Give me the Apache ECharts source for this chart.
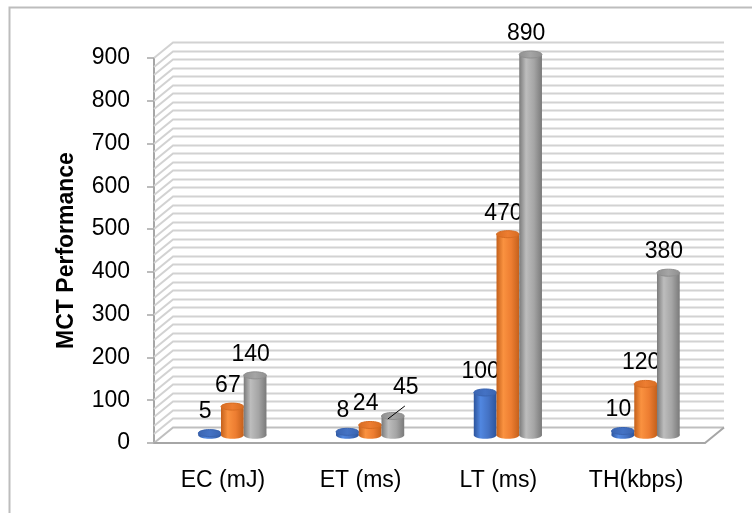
<!DOCTYPE html>
<html>
<head>
<meta charset="utf-8">
<script src="https://cdn.jsdelivr.net/npm/echarts@6/dist/echarts.min.js"></script>
<style>
  html, body { margin: 0; padding: 0; background: #fff; }
  #chart { width: 752px; height: 513px; }
</style>
</head>
<body>
<div id="chart"></div>
<script>
// Metrics on the category axis
const categories = ['EC (mJ)', 'ET (ms)', 'LT (ms)', 'TH(kbps)'];
// Three measured series per metric (blue, orange, grey cylinders)
const seriesBlue = [5, 8, 100, 10];
const seriesOrange = [67, 24, 470, 120];
const seriesGrey = [140, 45, 890, 380];

const axisTitle = 'MCT Performance';
const yMin = 0, yMax = 900, yStep = 100, wallStep = 20;

// Oblique depth offset of the back wall (px)
const DX = 19, DY = -15.5;
const FONT = '"Liberation Sans", Arial, sans-serif';

const palettes = [
  { dark: '#2c549c', light: '#5187e0', base: '#4472c4', cap: '#3a64b0' },
  { dark: '#c4601b', light: '#fa9240', base: '#ed7d31', cap: '#d76c22' },
  { dark: '#7a7a7a', light: '#bdbdbd', base: '#a5a5a5', cap: '#8f8f8f' }
];

// Labels nudged away from their bar, drawn with a leader line
const labelNudge = { '2-1': { dx: 13, dy: -28, leader: true } };

const wallLevels = [];
for (let v = yMin; v <= yMax; v += wallStep) wallLevels.push(v);

function bodyGradient(p) {
  return new echarts.graphic.LinearGradient(0, 0, 1, 0, [
    { offset: 0, color: p.dark },
    { offset: 0.3, color: p.light },
    { offset: 0.65, color: p.base },
    { offset: 1, color: p.dark }
  ]);
}

function renderWall(params, api) {
  const cs = params.coordSys;
  const lvl = api.value(0);
  const y = Math.round(api.coord([0, lvl])[1]);
  const x0 = cs.x, x1 = cs.x + cs.width;
  const children = [{
    type: 'polyline',
    shape: { points: [[x0, y], [x0 + DX, y + DY], [x1 + DX, y + DY]] },
    style: { fill: null, stroke: lvl === yMin ? '#bfbfbf' : '#d2d2d2', lineWidth: 2 },
    silent: true
  }];
  if (lvl === yMin) {
    // floor front edge and right side
    children.push({
      type: 'polyline',
      shape: { points: [[x0, y], [x1, y], [x1 + DX, y + DY]] },
      style: { fill: null, stroke: '#a6a6a6', lineWidth: 2 },
      silent: true
    });
  }
  return { type: 'group', children };
}

function makeBarRenderer(k) {
  const p = palettes[k];
  return function (params, api) {
    const ci = api.value(0), v = api.value(1);
    const band = api.size([1, 0])[0];
    const bw = band * 0.165;
    const base = api.coord([ci, 0]);
    const top = api.coord([ci, v]);
    const cx = base[0] + DX / 2 + (k - 1) * bw;
    const baseY = base[1] + DY / 2;
    const topY = top[1] + DY / 2;
    const ry = 3.5;
    const grad = bodyGradient(p);
    const children = [
      { type: 'ellipse', shape: { cx, cy: baseY, rx: bw / 2, ry }, style: { fill: grad } },
      { type: 'rect', shape: { x: cx - bw / 2, y: topY, width: bw, height: Math.max(0, baseY - topY) }, style: { fill: grad } },
      { type: 'ellipse', shape: { cx, cy: topY, rx: bw / 2, ry },
        style: { fill: new echarts.graphic.LinearGradient(0, 0, 1, 0, [
          { offset: 0, color: p.cap }, { offset: 0.5, color: p.base }, { offset: 1, color: p.cap }
        ]), stroke: p.cap, lineWidth: 1 } }
    ];
    const nudge = labelNudge[k + '-' + ci];
    let lx = cx - 4.5, ly = topY - 21;
    if (nudge) {
      lx = cx + nudge.dx; ly = topY + nudge.dy;
      children.push({
        type: 'line',
        shape: { x1: cx - 5, y1: topY + 3, x2: cx + 12, y2: topY - 10 },
        style: { stroke: '#000', lineWidth: 1 }
      });
    }
    children.push({
      type: 'text',
      style: { text: String(v), x: lx, y: ly, fill: '#000', fontSize: 23, fontFamily: FONT, align: 'center', verticalAlign: 'middle' }
    });
    return { type: 'group', children };
  };
}

const chart = echarts.init(document.getElementById('chart'), null, { renderer: 'canvas' });
chart.setOption({
  animation: false,
  backgroundColor: '#fff',
  graphic: [{
    type: 'rect', left: 7, top: 5, silent: true,
    shape: { width: 800, height: 600 },
    style: { fill: 'none', stroke: '#bdbdbd', lineWidth: 2 }
  }],
  grid: { left: 154, right: 47, top: 58, bottom: 70 },
  xAxis: {
    type: 'category', data: categories, boundaryGap: true,
    axisLine: { show: false }, axisTick: { show: false }, splitLine: { show: false },
    axisLabel: { margin: 26, color: '#000', fontSize: 23, fontFamily: FONT }
  },
  yAxis: {
    type: 'value', min: yMin, max: yMax, interval: yStep,
    name: axisTitle, nameLocation: 'middle', nameRotate: 90, nameGap: 76,
    nameTextStyle: { color: '#000', fontSize: 23, fontWeight: 'bold', fontFamily: FONT },
    axisLine: { show: true, lineStyle: { color: '#a6a6a6', width: 2 } },
    axisTick: { show: true, length: 7, lineStyle: { color: '#a6a6a6', width: 1.5 } },
    splitLine: { show: false },
    axisLabel: { margin: 24, color: '#000', fontSize: 23, fontFamily: FONT }
  },
  series: [
    { type: 'custom', name: 'wall', z: 1, silent: true, renderItem: renderWall,
      data: wallLevels.map(v => [v]), encode: { y: 0 } },
    { type: 'custom', name: 'Blue', z: 3, renderItem: makeBarRenderer(0),
      data: seriesBlue.map((v, i) => [i, v]), encode: { x: 0, y: 1 } },
    { type: 'custom', name: 'Orange', z: 3, renderItem: makeBarRenderer(1),
      data: seriesOrange.map((v, i) => [i, v]), encode: { x: 0, y: 1 } },
    { type: 'custom', name: 'Grey', z: 3, renderItem: makeBarRenderer(2),
      data: seriesGrey.map((v, i) => [i, v]), encode: { x: 0, y: 1 } }
  ]
});
</script>
</body>
</html>
